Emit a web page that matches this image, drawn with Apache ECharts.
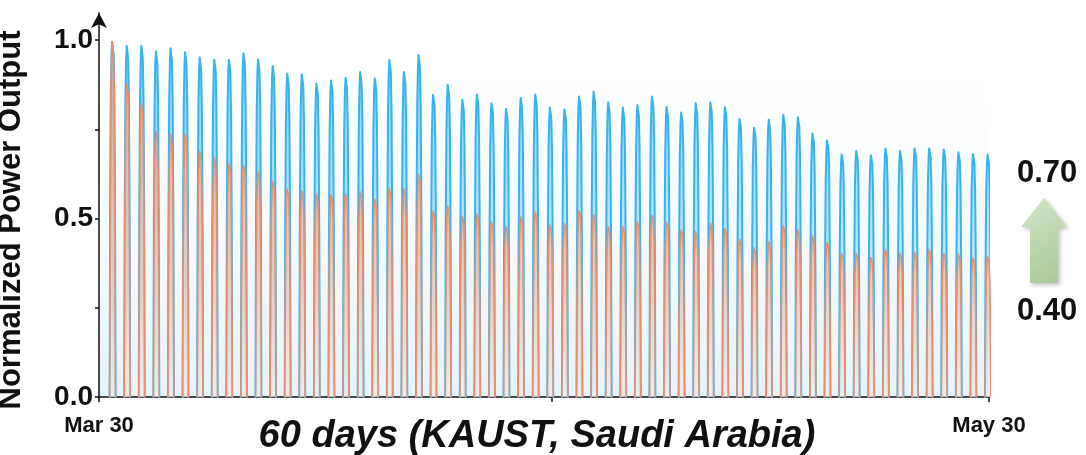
<!DOCTYPE html>
<html>
<head>
<meta charset="utf-8">
<title>Normalized Power Output</title>
<script src="https://cdn.jsdelivr.net/npm/echarts@6/dist/echarts.min.js"></script>
<style>
  html, body { margin: 0; padding: 0; background: #fff; }
  #chart { width: 1086px; height: 455px; }
</style>
</head>
<body>
<div id="chart"></div>
<script>
// Daily peak of normalized output, Mar 30 – May 30 (one value per day)
const bluePeaks = [
  1.000, 0.989, 0.989, 0.974, 0.982, 0.971, 0.957, 0.950, 0.950, 0.968,
  0.951, 0.932, 0.911, 0.909, 0.883, 0.891, 0.899, 0.915, 0.897, 0.949,
  0.915, 0.963, 0.851, 0.879, 0.838, 0.852, 0.827, 0.812, 0.843, 0.852,
  0.815, 0.810, 0.846, 0.860, 0.830, 0.815, 0.822, 0.846, 0.817, 0.801,
  0.827, 0.830, 0.816, 0.783, 0.758, 0.781, 0.795, 0.788, 0.742, 0.722,
  0.683, 0.693, 0.681, 0.700, 0.693, 0.700, 0.700, 0.697, 0.689, 0.684,
  0.682
];
const orangePeaks = [
  1.000, 0.881, 0.827, 0.748, 0.740, 0.742, 0.692, 0.675, 0.657, 0.652,
  0.634, 0.608, 0.585, 0.580, 0.572, 0.568, 0.572, 0.578, 0.557, 0.588,
  0.586, 0.627, 0.522, 0.537, 0.509, 0.515, 0.493, 0.480, 0.507, 0.521,
  0.484, 0.488, 0.524, 0.513, 0.480, 0.480, 0.493, 0.512, 0.492, 0.470,
  0.465, 0.490, 0.474, 0.444, 0.420, 0.438, 0.482, 0.470, 0.454, 0.435,
  0.403, 0.405, 0.393, 0.415, 0.405, 0.407, 0.415, 0.404, 0.403, 0.391,
  0.395
];

// Shape of one day's output around its peak (offset in days, share of peak)
const dayOffsets = [-0.2, -0.17, -0.12, -0.07, -0.03, 0, 0.03, 0.07, 0.12, 0.17, 0.2];
const dayLevels  = [0, 0.5, 0.85, 0.96, 0.995, 1, 0.995, 0.96, 0.85, 0.5, 0];
const peakTimeOfDay = 0.93;

// Axis ticks (days after Mar 30)
const xTickDays = [0, 31, 61];
const xTickLabels = { 0: 'Mar 30', 61: 'May 30' };
const yTickValues = [0, 0.25, 0.5, 0.75, 1.0];
const yLabelValues = [0, 0.5, 1.0];

// Annotation on the right
const annotationTop = '0.70';
const annotationBottom = '0.40';

function buildSeries(peaks) {
  const pts = [];
  peaks.forEach(function (p, i) {
    const center = i + peakTimeOfDay;
    for (let j = 0; j < dayOffsets.length; j++) {
      pts.push([center + dayOffsets[j], p * dayLevels[j]]);
    }
    pts.push([center + 0.5, null]); // night: break the line
  });
  return pts;
}

const FONT = 'Liberation Sans, Arial, sans-serif';
const chart = echarts.init(document.getElementById('chart'), null, { renderer: 'canvas' });

chart.setOption({
  animation: false,
  backgroundColor: '#ffffff',
  grid: {
    left: 99, right: 97, top: 13, bottom: 58,
    outerBoundsMode: 'none',
    containLabel: false,
    show: true, borderWidth: 0,
    backgroundColor: {
      type: 'linear', x: 0, y: 0, x2: 0, y2: 1,
      colorStops: [
        { offset: 0, color: 'rgba(255,255,255,0)' },
        { offset: 0.45, color: 'rgba(235,245,250,0.35)' },
        { offset: 1, color: 'rgba(214,236,246,0.6)' }
      ]
    }
  },
  xAxis: {
    type: 'value', min: 0, max: 61,
    axisLine: { show: true, lineStyle: { color: '#111', width: 1.5 } },
    axisTick: { show: true, customValues: xTickDays, length: 5, lineStyle: { color: '#111', width: 1.5 } },
    axisLabel: {
      customValues: [0, 61],
      formatter: function (v) { return xTickLabels[v] || ''; },
      fontFamily: FONT, fontSize: 22, fontWeight: 'bold', color: '#111', margin: 18
    },
    splitLine: { show: false },
    name: '60 days (KAUST, Saudi Arabia)',
    nameLocation: 'middle', nameGap: 21, nameMoveOverlap: false,
    nameTextStyle: { fontFamily: FONT, fontSize: 38, fontWeight: 'bold', fontStyle: 'italic', color: '#111', verticalAlign: 'top', padding: [0, 14, 0, 0] }
  },
  yAxis: {
    type: 'value', min: 0, max: 1.076,
    axisLine: {
      show: true, symbol: ['none', 'arrow'], symbolSize: [12, 15],
      lineStyle: { color: '#111', width: 1.5 }
    },
    axisTick: { show: true, customValues: yTickValues, length: 4, lineStyle: { color: '#111', width: 1.5 } },
    axisLabel: {
      customValues: yLabelValues,
      formatter: function (v) { return v.toFixed(1); },
      fontFamily: FONT, fontSize: 28, fontWeight: 'bold', color: '#111', margin: 6
    },
    splitLine: { show: false },
    name: 'Normalized Power Output',
    nameLocation: 'middle', nameGap: 72, nameMoveOverlap: false,
    nameTextStyle: { fontFamily: FONT, fontSize: 31, fontWeight: 'bold', color: '#111', padding: [0, 30, 0, 0] }
  },
  series: [
    {
      name: 'Blue', type: 'line', data: buildSeries(bluePeaks),
      showSymbol: false, connectNulls: false, z: 2,
      lineStyle: { color: '#36b4ee', width: 2, join: 'round', cap: 'round' },
      areaStyle: {
        color: {
          type: 'linear', x: 0, y: 0, x2: 0, y2: 1,
          colorStops: [
            { offset: 0, color: 'rgba(54,180,238,0.9)' },
            { offset: 1, color: 'rgba(190,228,246,0.5)' }
          ]
        }
      }
    },
    {
      name: 'Orange', type: 'line', data: buildSeries(orangePeaks),
      showSymbol: false, connectNulls: false, z: 3,
      lineStyle: { color: '#e88f6e', width: 1.6, join: 'round', cap: 'round' },
      areaStyle: {
        color: {
          type: 'linear', x: 0, y: 0, x2: 0, y2: 1,
          colorStops: [
            { offset: 0, color: 'rgba(238,150,118,0.9)' },
            { offset: 0.7, color: 'rgba(244,185,160,0.75)' },
            { offset: 1, color: 'rgba(255,238,230,0.7)' }
          ]
        }
      }
    }
  ],
  graphic: [
    {
      type: 'text', left: 1017, top: 158,
      style: { text: annotationTop, font: 'bold 31px ' + FONT, fill: '#111' }
    },
    {
      type: 'text', left: 1017, top: 296,
      style: { text: annotationBottom, font: 'bold 31px ' + FONT, fill: '#111' }
    },
    {
      type: 'polygon',
      shape: { points: [[1044, 198], [1067, 227], [1058, 227], [1058, 283], [1030, 283], [1030, 227], [1021, 227]] },
      style: {
        fill: {
          type: 'linear', x: 0, y: 0, x2: 1, y2: 1,
          colorStops: [
            { offset: 0, color: '#d2e6c6' },
            { offset: 1, color: '#a8c898' }
          ]
        },
        shadowBlur: 4, shadowColor: 'rgba(0,0,0,0.25)', shadowOffsetX: 2, shadowOffsetY: 2
      }
    }
  ]
});
</script>
</body>
</html>
